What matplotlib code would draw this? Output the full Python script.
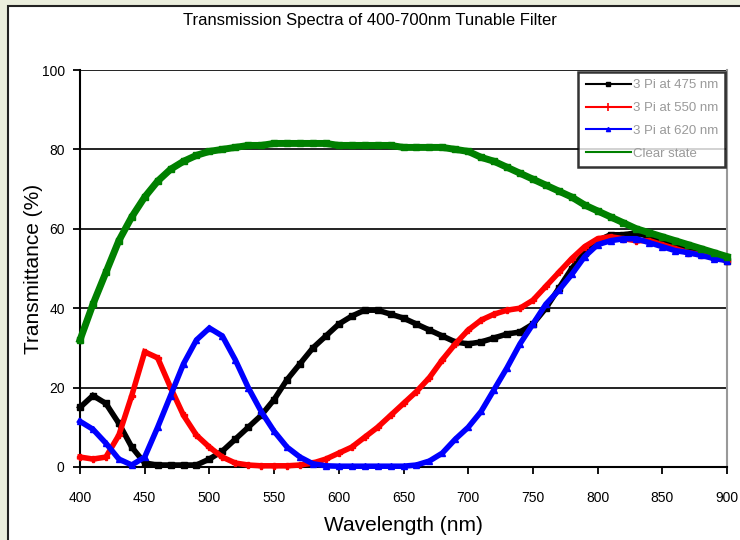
import matplotlib
matplotlib.use("Agg")
import matplotlib.pyplot as plt
from matplotlib.patches import Rectangle
from matplotlib.lines import Line2D

plt.rcParams['font.family'] = ['Liberation Sans', 'DejaVu Sans']

wavelength = [400, 410, 420, 430, 440, 450, 460, 470, 480, 490,
              500, 510, 520, 530, 540, 550, 560, 570, 580, 590,
              600, 610, 620, 630, 640, 650, 660, 670, 680, 690,
              700, 710, 720, 730, 740, 750, 760, 770, 780, 790,
              800, 810, 820, 830, 840, 850, 860, 870, 880, 890, 900]

t_475 = [15, 18, 16, 11, 5, 1, 0.5, 0.5, 0.5, 0.5,
         2, 4, 7, 10, 13, 17, 22, 26, 30, 33,
         36, 38, 39.5, 39.5, 38.5, 37.5, 36, 34.5, 33, 31.5,
         31, 31.5, 32.5, 33.5, 34, 36, 40, 45, 50, 54,
         57, 58.5, 58.5, 59, 58, 57, 56, 55, 54, 53, 52]

t_550 = [2.5, 2, 2.5, 8, 18, 29, 27.5, 20, 13, 8,
         5, 2.5, 1, 0.5, 0.3, 0.3, 0.3, 0.5, 1, 2,
         3.5, 5, 7.5, 10, 13, 16, 19, 22.5, 27, 31,
         34.5, 37, 38.5, 39.5, 40, 42, 45.5, 49, 52.5, 55.5,
         57.5, 58, 57.5, 57, 57, 56, 55, 54, 53.5, 53, 52]

t_620 = [11.5, 9.5, 6, 2, 0.5, 2.5, 10, 18, 26, 32,
         35, 33, 27, 20, 14, 9, 5, 2.5, 0.8, 0.3,
         0.2, 0.2, 0.2, 0.2, 0.2, 0.2, 0.5, 1.5, 3.5, 7,
         10, 14, 19.5, 25, 31, 36, 41, 44.5, 48.5, 53,
         56, 57, 57.5, 57.5, 56.5, 55.5, 54.5, 54, 53.3, 52.5, 52]

t_clear = [32, 41, 49, 57, 63, 68, 72, 75, 77, 78.5,
           79.5, 80, 80.5, 81, 81, 81.5, 81.5, 81.5, 81.5, 81.5,
           81, 81, 81, 81, 81, 80.5, 80.5, 80.5, 80.5, 80,
           79.5, 78, 77, 75.5, 74, 72.5, 71, 69.5, 68, 66,
           64.5, 63, 61.5, 60, 59, 58, 57, 56, 55, 54, 53]

labels = ['3 Pi at 475 nm', '3 Pi at 550 nm', '3 Pi at 620 nm', 'Clear state']
colors = ['black', 'red', 'blue', 'green']
markers = ['s', 'P', '^', 's']
xticks = [400, 450, 500, 550, 600, 650, 700, 750, 800, 850, 900]
yticks = [0, 20, 40, 60, 80, 100]

fig = plt.figure(figsize=(7.4, 5.4), dpi=100)
fig.patch.set_facecolor('#ebeedd')
frame = Rectangle((8 / 740, -0.01), 1, 1.01 - 6 / 540, transform=fig.transFigure,
                  facecolor='white', edgecolor='#222222', linewidth=1.5, zorder=-10)
fig.patches.append(frame)

ax = fig.add_axes([80 / 740, 1 - 467 / 540, 647 / 740, 397 / 540])
ax.set_zorder(2)
ax.set_facecolor('white')

series = [t_475, t_550, t_620, t_clear]
for vals, c, m in zip(series, colors, markers):
    lw = 5.0 if c == 'green' else 4.0
    ax.plot(wavelength, vals, color=c, lw=lw, marker=m, ms=5, mec=c, mfc=c,
            solid_joinstyle='miter', zorder=3, clip_on=False)

ax.set_xlim(400, 900)
ax.set_ylim(0, 100)
ax.set_xticks(xticks)
ax.set_yticks(yticks)
for y in [20, 40, 60, 80, 100]:
    ax.axhline(y, color='#222222', lw=1.4, zorder=1)

ax.spines['left'].set_color('black')
ax.spines['left'].set_linewidth(1.5)
ax.spines['bottom'].set_color('black')
ax.spines['bottom'].set_linewidth(1.5)
ax.spines['right'].set_color('#999999')
ax.spines['right'].set_linewidth(1.5)
ax.spines['top'].set_visible(False)

ax.tick_params(axis='both', direction='out', length=5, width=1.3, colors='black',
               labelsize=10)
ax.tick_params(axis='x', pad=12)
ax.tick_params(axis='y', pad=6)

ax.set_xlabel('Wavelength (nm)', fontsize=15, labelpad=8)
ax.set_ylabel('Transmittance (%)', fontsize=15, labelpad=-1)

fig.text(370 / 740, 1 - 20 / 540, 'Transmission Spectra of 400-700nm Tunable Filter',
         ha='center', va='center', fontsize=12, fontweight='medium')

handles = [Line2D([0], [0], color='black', lw=1.5, marker='s', ms=3),
           Line2D([0], [0], color='red', lw=1.5, marker='+', ms=6, mew=1.2),
           Line2D([0], [0], color='blue', lw=1.5, marker='^', ms=3),
           Line2D([0], [0], color='green', lw=1.5)]
leg = ax.legend(handles, labels, loc='upper right', bbox_to_anchor=(0.997, 0.995),
                borderaxespad=0, fontsize=9.5, labelcolor='#9a9a9a', frameon=True,
                fancybox=False, edgecolor='black', handlelength=3.4,
                handletextpad=0.15, labelspacing=0.8, borderpad=0.55)
leg.get_frame().set_linewidth(1.8)
leg.set_zorder(5)

fig.savefig('out.png', dpi=100, facecolor=fig.get_facecolor())
